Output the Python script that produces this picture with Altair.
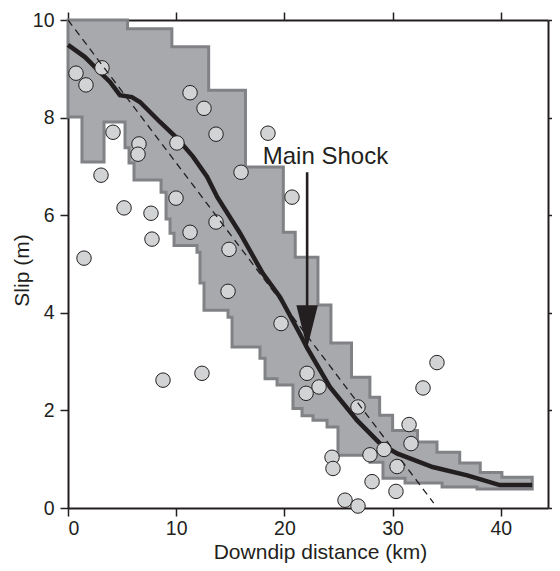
import altair as alt
import pandas as pd

# ---- data ----
# upper / lower edges of the grey band (step functions: value holds from x until next x)
upper_x = [0, 5.5, 9.6, 13.0, 16.4, 19.9, 21.0, 23.1, 24.3, 26.2, 27.9, 28.8, 30.0, 32.3, 34.1, 36.2, 38.1, 40.1]
upper_y = [10.0, 9.82, 9.45, 8.56, 6.99, 5.65, 5.14, 4.16, 3.38, 2.68, 2.27, 1.90, 1.59, 1.35, 1.14, 0.92, 0.73, 0.63]
lower_x = [0, 1.29, 3.33, 5.27, 5.64, 6.10, 8.60, 9.06, 9.43, 9.80, 11.92, 12.20, 12.57, 14.79, 15.16, 17.74,
           18.21, 19.32, 20.79, 21.63, 22.64, 23.94, 24.95, 27.91, 29.11, 31.15, 34.57, 37.80]
lower_y = [8.01, 7.09, 7.91, 7.38, 7.07, 6.72, 6.47, 5.92, 5.63, 5.38, 5.24, 4.61, 4.05, 3.91, 3.30, 3.07,
           2.65, 2.52, 2.04, 1.89, 1.80, 1.66, 1.08, 0.94, 0.61, 0.51, 0.43, 0.39]
band_end = 42.9

# mean slip curve
mean_x = [0, 1.57, 2.96, 3.88, 4.8, 5.9, 6.65, 8.5, 10.07, 11.55, 12.85, 13.8, 15.9, 18.0, 19.6, 21.4,
          22.1, 24.2, 26.7, 28.8, 30.4, 33.7, 36.9, 39.9, 42.9]
mean_y = [9.49, 9.24, 8.93, 8.73, 8.46, 8.42, 8.32, 7.91, 7.58, 7.2, 6.79, 6.37, 5.63, 4.81, 4.32, 3.58,
          3.28, 2.48, 1.80, 1.33, 1.12, 0.84, 0.67, 0.47, 0.47]

# individual slip observations
pt_x = [0.74, 1.66, 3.14, 4.16, 3.05, 6.56, 6.47, 5.18, 7.67, 7.76, 1.48, 10.07, 11.28, 12.57, 13.68,
        15.99, 9.98, 13.68, 11.28, 14.88, 18.48, 20.70, 14.79, 19.69, 8.78, 12.38, 22.09, 23.20, 22.00,
        26.80, 34.10, 32.81, 31.52, 31.70, 24.40, 24.49, 27.91, 29.21, 30.41, 28.10, 30.31, 25.60, 26.80]
pt_y = [8.91, 8.67, 9.02, 7.70, 6.82, 7.46, 7.25, 6.15, 6.04, 5.51, 5.12, 7.48, 8.51, 8.19, 7.66,
        6.88, 6.35, 5.86, 5.65, 5.30, 7.68, 6.37, 4.44, 3.78, 2.62, 2.76, 2.76, 2.48, 2.35,
        2.07, 2.98, 2.46, 1.71, 1.32, 1.04, 0.81, 1.09, 1.20, 0.85, 0.54, 0.34, 0.16, 0.04]

# dashed linear trend
trend_x = [0.0, 33.8]
trend_y = [10.0, 0.1]

# main shock arrow and label
shock_x = 22.1
shock_shaft_y = [6.88, 4.1]
shock_head_y = 3.715
shock_label = "Main Shock"
label_x, label_y = 18.0, 7.04

x_ticks = [0, 10, 20, 30, 40]
y_ticks = [0, 2, 4, 6, 8, 10]
x_max = 44.36

# ---- build tables ----
def step_value(xs, ys, x):
    v = ys[0]
    for xi, yi in zip(xs, ys):
        if xi <= x + 1e-9:
            v = yi
    return v

bx = sorted(set(upper_x) | set(lower_x)) + [band_end]
band = pd.DataFrame({
    "x": bx,
    "hi": [step_value(upper_x, upper_y, v) for v in bx],
    "lo": [step_value(lower_x, lower_y, v) for v in bx],
})
mean_df = pd.DataFrame({"x": mean_x, "y": mean_y})
pts_df = pd.DataFrame({"x": pt_x, "y": pt_y})
trend_df = pd.DataFrame({"x": trend_x, "y": trend_y})
shaft_df = pd.DataFrame({"x": [shock_x, shock_x], "y": shock_shaft_y})
head_df = pd.DataFrame({"x": [shock_x], "y": [shock_head_y]})
label_df = pd.DataFrame({"x": [label_x], "y": [label_y], "t": [shock_label]})

INK = "#231f20"
FONT = "Liberation Sans"
xs = alt.Scale(domain=[0, x_max], nice=False, zero=False)
ys = alt.Scale(domain=[0, 10], nice=False, zero=False)

common_axis = dict(tickSize=8, tickWidth=1.5, tickColor=INK, domainWidth=2, domainColor=INK,
                   grid=False, labelFont=FONT, labelFontSize=19.5, labelColor=INK,
                   titleFont=FONT, titleFontSize=21, titleFontWeight="normal", titleColor=INK)

x_bottom = alt.Axis(orient="bottom", values=x_ticks, labelPadding=3, title="Downdip distance (km)",
                    titleX=252, titleY=50, titleBaseline="alphabetic", **common_axis)
y_left = alt.Axis(orient="left", values=y_ticks, labelPadding=6, title="Slip (m)",
                  titleX=-40, titleY=250, titleBaseline="alphabetic", titleAngle=-90, **common_axis)
x_top = alt.Axis(orient="top", values=x_ticks, labels=False, title="", **common_axis)
y_right = alt.Axis(orient="right", values=y_ticks, labels=False, title="", **common_axis)

band_layer = alt.Chart(band).mark_area(
    interpolate="step-after", fill="#a7a9ac", stroke="#808285", strokeWidth=3
).encode(
    x=alt.X("x:Q", scale=xs, axis=x_bottom),
    y=alt.Y("hi:Q", scale=ys, axis=y_left),
    y2="lo:Q",
)

mean_layer = alt.Chart(mean_df).mark_line(color=INK, strokeWidth=4.5).encode(
    x=alt.X("x:Q", scale=xs, axis=None), y=alt.Y("y:Q", scale=ys, axis=None))

pts_layer = alt.Chart(pts_df).mark_point(
    shape="circle", filled=True, fill="#d1d3d4", stroke=INK, strokeWidth=1, size=210, opacity=1
).encode(x=alt.X("x:Q", scale=xs, axis=None), y=alt.Y("y:Q", scale=ys, axis=None))

trend_layer = alt.Chart(trend_df).mark_line(color=INK, strokeWidth=1.3, strokeDash=[7, 5]).encode(
    x=alt.X("x:Q", scale=xs, axis=None), y=alt.Y("y:Q", scale=ys, axis=None))

shaft_layer = alt.Chart(shaft_df).mark_line(color=INK, strokeWidth=2.6).encode(
    x=alt.X("x:Q", scale=xs, axis=None), y=alt.Y("y:Q", scale=ys, axis=None))

head_layer = alt.Chart(head_df).mark_point(
    shape="M-0.5,-1L0.5,-1L0,1Z", size=1849, filled=True, fill=INK, strokeWidth=0, opacity=1
).encode(x=alt.X("x:Q", scale=xs, axis=None), y=alt.Y("y:Q", scale=ys, axis=None))

label_layer = alt.Chart(label_df).mark_text(
    align="left", baseline="alphabetic", font=FONT, fontSize=24, color=INK
).encode(x=alt.X("x:Q", scale=xs, axis=None), y=alt.Y("y:Q", scale=ys, axis=None), text="t:N")

frame_layer = alt.Chart(pts_df).mark_point(opacity=0).encode(
    x=alt.X("x:Q", scale=xs, axis=x_top), y=alt.Y("y:Q", scale=ys, axis=y_right))

chart = alt.layer(
    band_layer, mean_layer, pts_layer, trend_layer, shaft_layer, head_layer, label_layer, frame_layer
).resolve_axis(x="independent", y="independent").properties(
    width=480, height=488, autosize="none",
    padding={"left": 60, "top": 12, "right": 4, "bottom": 55},
    background="white",
).configure_view(strokeWidth=0)

chart.save("out.html", embed_options={"renderer": "svg", "actions": False})
